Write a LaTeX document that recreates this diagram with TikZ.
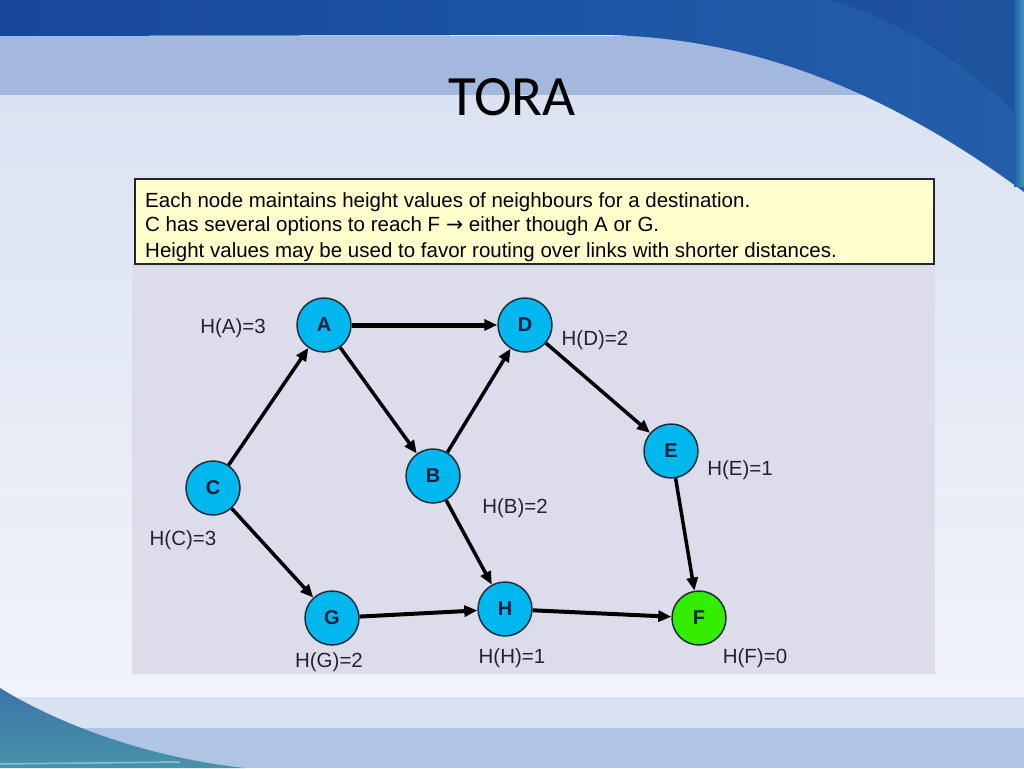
\documentclass[tikz,border=0pt]{standalone}
\usepackage{fontspec}
\setmainfont{Liberation Sans}
\newfontfamily\titlefont{Carlito}
\newfontfamily\symfont{DejaVu Sans}
\usetikzlibrary{arrows.meta}
\definecolor{darkblue}{RGB}{22,72,156}
\definecolor{darkblueL}{RGB}{36,94,170}
\definecolor{bandblue}{RGB}{162,184,221}
\definecolor{maintop}{RGB}{219,227,242}
\definecolor{mainbot}{RGB}{240,243,250}
\definecolor{botband}{RGB}{216,226,241}
\definecolor{botband2}{RGB}{176,196,228}
\definecolor{swoosh}{RGB}{58,118,168}
\definecolor{swoosh2}{RGB}{74,146,170}
\definecolor{tealedge}{RGB}{60,150,185}
\definecolor{panel}{RGB}{220,220,235}
\definecolor{infoyellow}{RGB}{255,255,206}
\definecolor{nodefill}{RGB}{0,184,238}
\definecolor{nodeedge}{RGB}{30,45,60}
\definecolor{nodetext}{RGB}{15,30,60}
\definecolor{fgreen}{RGB}{51,238,0}
\definecolor{labeltext}{RGB}{35,35,50}
\begin{document}
\begin{tikzpicture}[x=1pt,y=-1pt,
  vert/.style={circle, draw=nodeedge, line width=1.5pt, fill=nodefill,
    minimum size=54pt, inner sep=0pt,
    font=\fontsize{20}{20}\selectfont\bfseries, text=nodetext},
  hlabel/.style={anchor=base, font=\fontsize{20.5}{20.5}\selectfont, text=labeltext},
  link/.style={line width=3.5pt, -{Triangle[length=13pt,width=11pt]}},
  infotext/.style={anchor=base west, font=\fontsize{20.5}{24}\selectfont, text=black, inner sep=0pt}
]
\useasboundingbox (0,0) rectangle (1024,768);
% background
\shade[top color=maintop, bottom color=mainbot] (0,95) rectangle (1024,697);
\fill[bandblue] (0,36) rectangle (1024,95);
\shade[left color=darkblue, right color=darkblueL]
  (0,0) -- (1024,0) -- (1024,192) .. controls (900,100) and (760,36) .. (600,35) -- (0,36) -- cycle;
\fill[darkblue!85!black, opacity=0.3]
  (830,0) -- (1024,0) -- (1024,120) .. controls (960,60) and (900,20) .. (830,0) -- cycle;
\shade[left color=darkblueL, right color=tealedge] (1014,0) rectangle (1024,186);
\fill[botband] (0,697) rectangle (1024,728);
\fill[botband2] (0,728) rectangle (1024,768);
\shade[top color=swoosh, bottom color=swoosh2]
  (0,688) .. controls (60,725) and (150,758) .. (245,768) -- (0,768) -- cycle;
\draw[tealedge!60!white, line width=1.5pt] (0,764) -- (180,762);
% title
\node[anchor=base, font=\titlefont\fontsize{57}{57}\selectfont, text=black] (title) at (512,115) {TORA};
% panel
\fill[panel] (132,264) rectangle (935,674);
\draw[fill=infoyellow, draw=black!85, line width=2pt] (135,179) rectangle (934,264);
\node[infotext] (l1) at (145,207) {Each node maintains height values of neighbours for a destination.};
\node[infotext] (l2) at (145,231) {C has several options to reach F {\symfont →} either though A or G.};
\node[infotext] (l3) at (145,257) {Height values may be used to favor routing over links with shorter distances.};
% nodes
\node[vert] (A) at (324,325) {A};
\node[vert] (D) at (525,325) {D};
\node[vert] (B) at (433,476) {B};
\node[vert] (C) at (213,488) {C};
\node[vert] (E) at (671,451) {E};
\node[vert] (G) at (332,618) {G};
\node[vert] (H) at (505,609) {H};
\node[vert, fill=fgreen] (F) at (699,618) {F};
% labels
\node[hlabel] (hA) at (233,333) {H(A)=3};
\node[hlabel] (hD) at (595,345) {H(D)=2};
\node[hlabel] (hE) at (740,475) {H(E)=1};
\node[hlabel] (hB) at (515,513) {H(B)=2};
\node[hlabel] (hC) at (183,545) {H(C)=3};
\node[hlabel] (hG) at (329,667) {H(G)=2};
\node[hlabel] (hH) at (512,663) {H(H)=1};
\node[hlabel] (hF) at (755,663) {H(F)=0};
% edges
\draw[link] (C) -- (A);
\draw[link, line width=5pt] (A) -- (D);
\draw[link] (A) -- (B);
\draw[link] (B) -- (D);
\draw[link] (D) -- (E);
\draw[link] (C) -- (G);
\draw[link] (B) -- (H);
\draw[link, line width=4pt] (G) -- (H);
\draw[link, line width=4pt] (H) -- (F);
\draw[link] (E) -- (F);
\end{tikzpicture}
\end{document}
